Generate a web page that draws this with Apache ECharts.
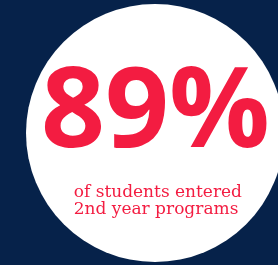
<!DOCTYPE html>
<html><head><meta charset="utf-8">
<script src="https://cdn.jsdelivr.net/npm/echarts@6/dist/echarts.min.js"></script>
<style>html,body{margin:0;padding:0;background:#06224a;}#c{width:278px;height:265px;}</style>
</head><body><div id="c"></div>
<script>
const statValue = [89];
const statUnit = ['%'];
const captionLines = ['of students entered', '2nd year programs'];

const chart = echarts.init(document.getElementById('c'), null, {renderer: 'canvas'});
chart.setOption({
  backgroundColor: '#06224a',
  animation: false,
  series: [{
    type: 'pie',
    silent: true,
    z: 1,
    center: [155, 133],
    radius: [0, 129],
    label: {show: false},
    labelLine: {show: false},
    itemStyle: {color: '#ffffff', borderWidth: 0},
    data: [{value: statValue[0], name: 'stat'}]
  }],
  graphic: [
    {
      type: 'text', left: 41, top: 59, z: 100,
      style: {
        text: statValue[0] + statUnit[0],
        fill: '#f31c41',
        fontSize: 112,
        fontWeight: 'bold',
        fontFamily: 'Open Sans'
      }
    },
    {
      type: 'text', right: 36, top: 184, z: 100,
      style: {
        text: captionLines.join('\n'),
        fill: '#f31c41',
        fontSize: 17,
        fontFamily: 'DejaVu Serif',
        lineHeight: 17,
        align: 'right'
      }
    }
  ]
});
</script></body></html>
